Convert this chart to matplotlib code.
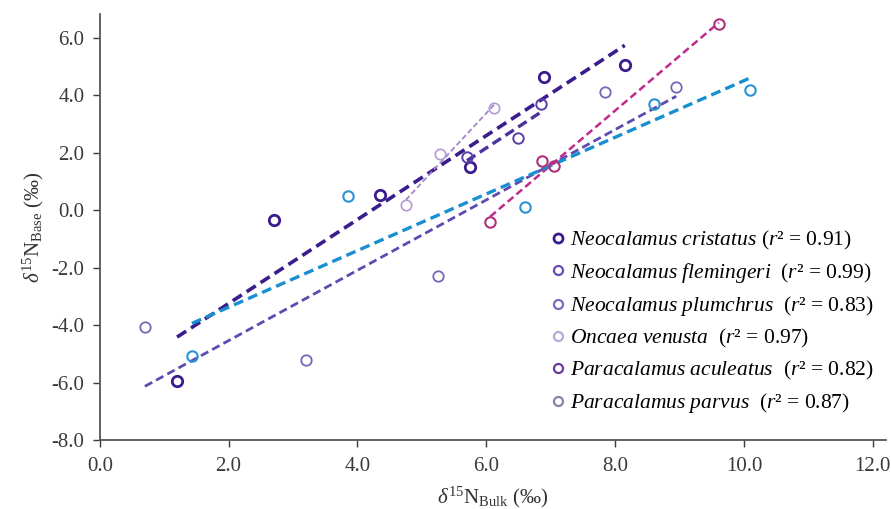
import matplotlib
matplotlib.use("Agg")
import matplotlib.pyplot as plt
from matplotlib.lines import Line2D
import numpy as np

plt.rcParams["font.family"] = ["Liberation Serif", "DejaVu Serif"]
plt.rcParams["mathtext.fontset"] = "custom"
plt.rcParams["mathtext.rm"] = "Liberation Serif"
plt.rcParams["mathtext.it"] = "Liberation Serif:italic"

# species data: d15N bulk (x) vs d15N base (y)
species = ["Neocalamus cristatus", "Neocalamus flemingeri", "Neocalamus plumchrus",
           "Oncaea venusta", "Paracalamus aculeatus", "Paracalamus parvus"]
r2_text = ["0.91", "0.99", "0.83", "0.97", "0.82", "0.87"]

cristatus_x = [1.2, 2.7, 4.35, 5.75, 6.9, 8.15]
cristatus_y = [-5.95, -0.35, 0.55, 1.5, 4.65, 5.05]
flemingeri_x = [5.7, 6.5, 6.85]
flemingeri_y = [1.85, 2.5, 3.7]
plumchrus_x = [0.7, 3.2, 5.25, 7.85, 8.95]
plumchrus_y = [-4.05, -5.2, -2.3, 4.1, 4.3]
venusta_x = [4.75, 5.28, 6.12]
venusta_y = [0.17, 1.95, 3.55]
aculeatus_x = [6.06, 6.87, 7.05, 9.61]
aculeatus_y = [-0.42, 1.7, 1.53, 6.48]
parvus_x = [1.43, 3.85, 6.6, 8.6, 10.1]
parvus_y = [-5.08, 0.5, 0.1, 3.7, 4.2]

xs = [cristatus_x, flemingeri_x, plumchrus_x, venusta_x, aculeatus_x, parvus_x]
ys = [cristatus_y, flemingeri_y, plumchrus_y, venusta_y, aculeatus_y, parvus_y]

point_colors = ["#3b1c8c", "#5a3ea6", "#7566b8", "#b49ad4", "#b0307f", "#2a93d2"]
line_colors = ["#3b1c8c", "#4b30a0", "#5e4ab0", "#a583cc", "#c02a8c", "#1a8fd0"]
line_widths = [2.6, 2.4, 2.0, 1.3, 1.8, 2.4]
marker_widths = [2.0, 1.4, 1.3, 1.2, 1.5, 1.5]
legend_colors = ["#3b1c8c", "#6a4cb5", "#7e6ac0", "#b8a8d8", "#6a3aa0", "#8a80a8"]

fig, ax = plt.subplots(figsize=(8.91, 5.09), dpi=100)
fig.subplots_adjust(left=0.112, right=0.994, bottom=0.135, top=0.9725)

for x, y, pc, lc, lw, mw in zip(xs, ys, point_colors, line_colors, line_widths, marker_widths):
    x = np.array(x)
    y = np.array(y)
    slope, icpt = np.polyfit(x, y, 1)
    fx = np.array([x.min(), x.max()])
    ax.plot(fx, slope * fx + icpt, color=lc, lw=lw, ls=(0, (3, 1.6)), zorder=2)
    ax.plot(x, y, "o", mfc="none", mec=pc, mew=mw, ms=7.5, zorder=3)

handles = []
for i, (name, r2, c, mw) in enumerate(zip(species, r2_text, legend_colors, marker_widths)):
    gap = " " if i == 0 else "  "
    label = r"$\it{" + name.replace(" ", r"\ ") + r"}$" + gap + r"($\it{r}$² = " + r2 + ")"
    handles.append(Line2D([], [], ls="none", marker="o", mfc="none", mec=c, mew=max(mw, 1.6),
                          ms=6.5, label=label))
ax.legend(handles=handles, loc="upper left", bbox_to_anchor=(0.564, 0.516), frameon=False,
          fontsize=15.5, handlelength=0.6, handletextpad=0.25, labelspacing=0.42,
          borderaxespad=0)

ax.set_xlim(0, 12.2)
ax.set_ylim(-8, 6.83)
ax.set_xticks(np.arange(0, 12.1, 2))
ax.set_yticks(np.arange(-8, 6.1, 2))
ax.set_xticklabels([f"{v:.1f}" for v in np.arange(0, 12.1, 2)])
ax.set_yticklabels([f"{v:.1f}" for v in np.arange(-8, 6.1, 2)])
ax.tick_params(labelsize=15, colors="#3a3a3a", direction="out", length=5, width=1)
ax.tick_params(axis="x", pad=7)
ax.tick_params(axis="y", pad=6)
for s in ["top", "right"]:
    ax.spines[s].set_visible(False)
for s in ["left", "bottom"]:
    ax.spines[s].set_color("#555555")
    ax.spines[s].set_linewidth(1.3)

ax.set_xlabel(r"$\delta^{15}\mathrm{N}_{\mathrm{Bulk}}$ (‰)", fontsize=15, color="#333333", labelpad=6)
ax.set_ylabel(r"$\delta^{15}\mathrm{N}_{\mathrm{Base}}$ (‰)", fontsize=15, color="#333333", labelpad=4)

fig.savefig("out.png", dpi=100)
